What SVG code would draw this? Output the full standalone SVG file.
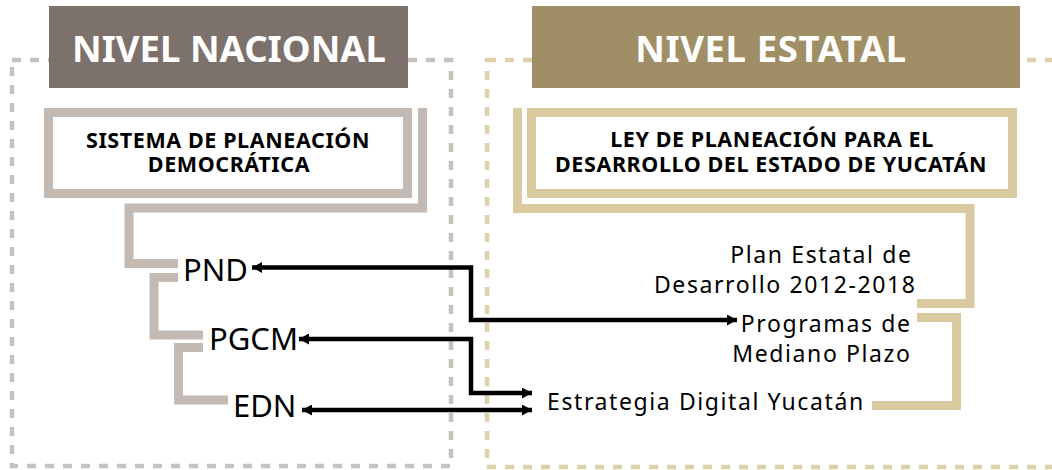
<svg xmlns="http://www.w3.org/2000/svg" width="1052" height="470" viewBox="0 0 1052 470">
<defs>
<style>
.dash-g{fill:none;stroke:#c9c1bb;stroke-width:4.5;stroke-dasharray:9 9}
.dash-t{fill:none;stroke:#ddd0aa;stroke-width:4.5;stroke-dasharray:9 9}
.fr-g{fill:#fff;stroke:#c3bab3;stroke-width:9}
.fr-t{fill:#fff;stroke:#d9ca9f;stroke-width:9}
.el-g{fill:none;stroke:#c3bab3;stroke-width:9}
.el-t{fill:none;stroke:#d9ca9f;stroke-width:9}
.hdr{font-family:"Noto Sans","Open Sans",sans-serif;font-weight:bold;font-size:36.5px;fill:#fff;text-anchor:middle}
.ttl{font-family:"Noto Sans","Open Sans",sans-serif;font-weight:bold;font-size:21.5px;letter-spacing:0.6px;fill:#000;text-anchor:middle}
.lbl{font-family:"Noto Sans","Open Sans",sans-serif;font-size:31px;fill:#000}
.lbs{font-family:"Noto Sans","Open Sans",sans-serif;font-size:23px;letter-spacing:1.6px;fill:#000}
.arr{fill:none;stroke:#000;stroke-width:4.5}
</style>
<marker id="ah" viewBox="0 0 10 11" refX="10" refY="5.5" markerWidth="10" markerHeight="11" markerUnits="userSpaceOnUse" orient="auto-start-reverse">
<path d="M0,0 L10,5.5 L0,11 Z" fill="#000"/>
</marker>
</defs>
<rect x="0" y="0" width="1052" height="470" fill="#fff"/>

<g id="nacional-area">
<rect class="dash-g" x="12" y="60" width="439" height="406"/>
</g>
<g id="estatal-area">
<rect class="dash-t" x="487" y="60" width="620" height="407"/>
</g>

<g id="hdr-nacional">
<rect x="49" y="6" width="359" height="82" fill="#7d716c"/>
<text class="hdr" x="229" y="62">NIVEL NACIONAL</text>
</g>
<g id="hdr-estatal">
<rect x="532" y="6" width="488" height="82" fill="#a08e66"/>
<text class="hdr" x="771" y="62" style="letter-spacing:0.6px">NIVEL ESTATAL</text>
</g>

<g id="spd">
<rect class="fr-g" x="48.5" y="112.5" width="359" height="81"/>
<text class="ttl"><tspan x="228" y="147.5">SISTEMA DE PLANEACIÓN</tspan><tspan x="229" y="172">DEMOCRÁTICA</tspan></text>
</g>
<g id="ley">
<rect class="fr-t" x="531.5" y="112.5" width="481" height="81"/>
<text class="ttl"><tspan x="772" y="147">LEY DE PLANEACIÓN PARA EL</tspan><tspan x="771" y="171.5">DESARROLLO DEL ESTADO DE YUCATÁN</tspan></text>
</g>

<g id="tree-lines">
<path class="el-g" d="M422.5,108 V208 H129 V263.5 H178"/>
<path class="el-g" d="M178,277.5 H154 V335 H203"/>
<path class="el-g" d="M203,347.5 H178.5 V400 H228"/>
<path class="el-t" d="M517.5,108 V208.5 H970 V303.5 H917"/>
<path class="el-t" d="M917,317.5 H956.5 V405.5 H872"/>
</g>

<g id="pnd"><text class="lbl" x="183" y="281">PND</text></g>
<g id="pgcm"><text class="lbl" x="209" y="350">PGCM</text></g>
<g id="edn"><text class="lbl" x="233" y="417">EDN</text></g>

<g id="ped">
<text class="lbs" text-anchor="end"><tspan x="912.5" y="263">Plan Estatal de</tspan><tspan x="916.5" y="293">Desarrollo 2012-2018</tspan></text>
</g>
<g id="pmp">
<text class="lbs" text-anchor="end"><tspan x="911.5" y="332">Programas de</tspan><tspan x="911.5" y="362">Mediano Plazo</tspan></text>
</g>
<g id="edy">
<text class="lbs" x="547" y="410">Estrategia Digital Yucatán</text>
</g>

<g id="connectors">
<path class="arr" d="M252,267.5 H471 V320 H737" marker-start="url(#ah)" marker-end="url(#ah)"/>
<path class="arr" d="M299,339 H471 V393 H532" marker-start="url(#ah)" marker-end="url(#ah)"/>
<path class="arr" d="M302,410 H532" marker-start="url(#ah)" marker-end="url(#ah)"/>
</g>
</svg>
